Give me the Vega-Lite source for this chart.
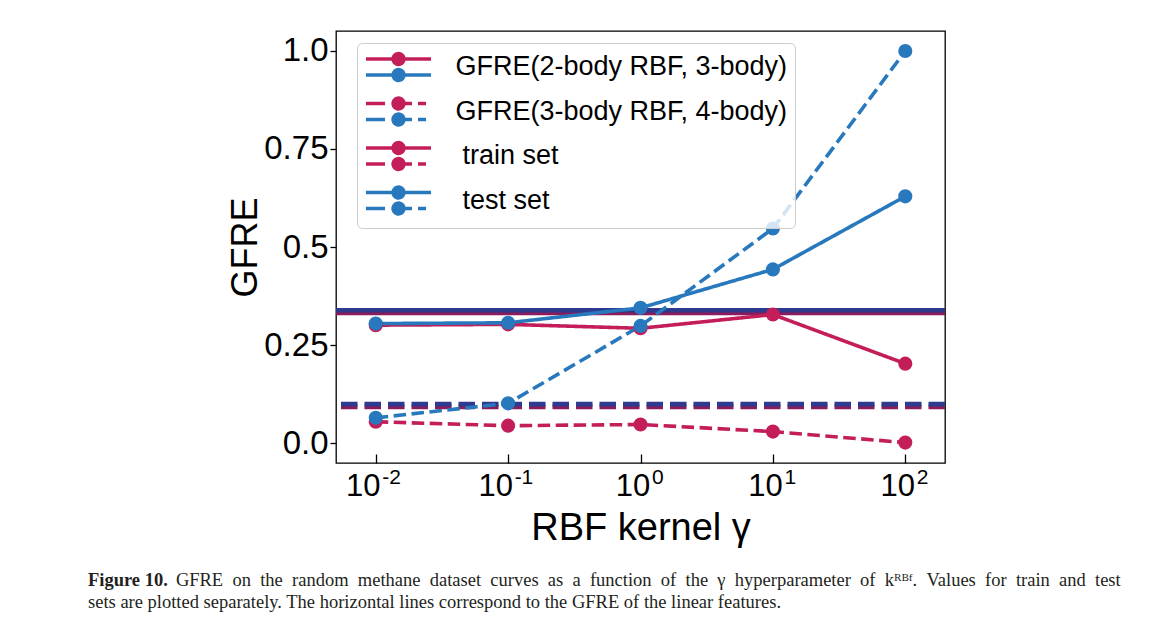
{
  "$schema": "https://vega.github.io/schema/vega-lite/v6.json",
  "width": 609,
  "height": 432,
  "autosize": {"type": "none"},
  "padding": {"left": 336, "top": 31, "right": 225, "bottom": 174},
  "background": "white",
  "config": {
    "font": "Liberation Sans",
    "view": {"stroke": "black", "strokeWidth": 1.3},
    "axis": {"grid": false, "domain": false, "labelColor": "black", "titleColor": "black", "tickColor": "black", "tickWidth": 1.3, "titleFontWeight": "normal", "labelFont": "Liberation Sans", "titleFont": "Liberation Sans", "labelFlush": false, "labelOverlap": false}
  },
  "title": {
    "text": "Figure 10.",
    "subtitle": ["\u200b\u00a0\u00a0\u00a0\u00a0\u00a0\u00a0\u00a0\u00a0\u00a0\u00a0\u00a0\u00a0\u00a0\u00a0\u00a0\u00a0\u00a0\u00a0\u00a0GFRE\u00a0\u00a0on\u00a0\u00a0the\u00a0\u00a0random\u00a0\u00a0methane\u00a0\u00a0dataset\u00a0\u00a0curves\u00a0\u00a0as\u00a0\u00a0a\u00a0\u00a0function\u00a0\u00a0of\u00a0\u00a0the\u00a0\u00a0γ\u00a0\u00a0hyperparameter\u00a0\u00a0of\u00a0\u00a0kᴿᴮᶠ.\u00a0\u00a0Values\u00a0\u00a0for\u00a0\u00a0train\u00a0\u00a0and\u00a0\u00a0test", "sets are plotted separately. The horizontal lines correspond to the GFRE of the linear features."],
    "orient": "bottom",
    "anchor": "start",
    "frame": "group",
    "font": "Liberation Serif",
    "fontSize": 18.5,
    "fontWeight": "bold",
    "color": "#231f20",
    "subtitleFont": "Liberation Serif",
    "subtitleFontSize": 18.5,
    "subtitleFontWeight": "normal",
    "subtitleColor": "#231f20",
    "subtitlePadding": -18.5,
    "subtitleLineHeight": 22,
    "offset": 24,
    "dx": -248
  },
  "datasets": {
    "curves": [
      {"gamma": 0.01, "value": 0.301, "set": "train set", "model": "GFRE(2-body RBF, 3-body)"},
      {"gamma": 0.1, "value": 0.303, "set": "train set", "model": "GFRE(2-body RBF, 3-body)"},
      {"gamma": 1, "value": 0.293, "set": "train set", "model": "GFRE(2-body RBF, 3-body)"},
      {"gamma": 10, "value": 0.328, "set": "train set", "model": "GFRE(2-body RBF, 3-body)"},
      {"gamma": 100, "value": 0.203, "set": "train set", "model": "GFRE(2-body RBF, 3-body)"},
      {"gamma": 0.01, "value": 0.055, "set": "train set", "model": "GFRE(3-body RBF, 4-body)"},
      {"gamma": 0.1, "value": 0.045, "set": "train set", "model": "GFRE(3-body RBF, 4-body)"},
      {"gamma": 1, "value": 0.048, "set": "train set", "model": "GFRE(3-body RBF, 4-body)"},
      {"gamma": 10, "value": 0.030, "set": "train set", "model": "GFRE(3-body RBF, 4-body)"},
      {"gamma": 100, "value": 0.002, "set": "train set", "model": "GFRE(3-body RBF, 4-body)"},
      {"gamma": 0.01, "value": 0.305, "set": "test set", "model": "GFRE(2-body RBF, 3-body)"},
      {"gamma": 0.1, "value": 0.307, "set": "test set", "model": "GFRE(2-body RBF, 3-body)"},
      {"gamma": 1, "value": 0.345, "set": "test set", "model": "GFRE(2-body RBF, 3-body)"},
      {"gamma": 10, "value": 0.443, "set": "test set", "model": "GFRE(2-body RBF, 3-body)"},
      {"gamma": 100, "value": 0.629, "set": "test set", "model": "GFRE(2-body RBF, 3-body)"},
      {"gamma": 0.01, "value": 0.065, "set": "test set", "model": "GFRE(3-body RBF, 4-body)"},
      {"gamma": 0.1, "value": 0.102, "set": "test set", "model": "GFRE(3-body RBF, 4-body)"},
      {"gamma": 1, "value": 0.299, "set": "test set", "model": "GFRE(3-body RBF, 4-body)"},
      {"gamma": 10, "value": 0.547, "set": "test set", "model": "GFRE(3-body RBF, 4-body)"},
      {"gamma": 100, "value": 0.999, "set": "test set", "model": "GFRE(3-body RBF, 4-body)"}
    ],
    "linear": [
      {"set": "train set", "model": "GFRE(2-body RBF, 3-body)", "linear": 0.332},
      {"set": "train set", "model": "GFRE(3-body RBF, 4-body)", "linear": 0.093},
      {"set": "test set", "model": "GFRE(2-body RBF, 3-body)", "linear": 0.339},
      {"set": "test set", "model": "GFRE(3-body RBF, 4-body)", "linear": 0.100}
    ]
  },
  "resolve": {"scale": {"color": "independent", "strokeDash": "independent"}, "axis": {"y": "independent"}},
  "layer": [
    {
      "data": {"name": "linear"},
      "mark": {"type": "rule", "strokeWidth": 4.7},
      "encoding": {
        "y": {"field": "linear", "type": "quantitative", "scale": {"domain": [-0.05, 1.05], "nice": false, "zero": false},
          "axis": {"orient": "left", "values": [0, 0.25, 0.5, 0.75, 1], "labelExpr": "datum.value == 0 ? '0.0' : datum.value == 1 ? '1.0' : '' + datum.value", "labelFontSize": 33, "labelPadding": 2, "tickSize": 6, "title": "GFRE", "titleFontSize": 36, "titlePadding": -1}},
        "color": {"field": "set", "type": "nominal", "scale": {"domain": ["train set", "test set"], "range": ["#8c1b5b", "#2d3a8e"]}, "legend": null},
        "strokeDash": {"field": "model", "type": "nominal", "scale": {"domain": ["GFRE(2-body RBF, 3-body)", "GFRE(3-body RBF, 4-body)"], "range": [[1, 0], [16.5, 7]]}, "legend": null}
      }
    },
    {
      "data": {"name": "curves"},
      "resolve": {"axis": {"x": "independent"}},
      "layer": [
        {
          "mark": {"type": "line", "strokeWidth": 3.6},
          "encoding": {
            "x": {"field": "gamma", "type": "quantitative", "scale": {"type": "log", "domain": [0.00501, 199.5], "nice": false},
              "axis": {"orient": "bottom", "values": [0.01, 0.1, 1, 10, 100], "labelExpr": "'10'", "labelFontSize": 31,
                "labelOffset": {"condition": {"test": "datum.value < 1", "value": -13}, "value": -8},
                "labelPadding": 17, "tickSize": -9, "title": "RBF kernel γ", "titleFontSize": 38, "titlePadding": 8}},
            "y": {"field": "value", "type": "quantitative", "scale": {"domain": [-0.05, 1.05], "nice": false, "zero": false},
              "axis": {"orient": "left", "values": [0, 0.25, 0.5, 0.75, 1], "labels": false, "tickSize": -7, "title": null}},
            "color": {"field": "set", "type": "nominal",
              "scale": {"domain": ["GFRE(2-body RBF, 3-body)", "GFRE(3-body RBF, 4-body)", "train set", "test set"],
                "range": [
                  {"expr": "{gradient: 'linear', x1: 0, y1: 0, x2: 0, y2: 1, stops: [{offset: 0, color: '#c41e5a'}, {offset: 0.5, color: '#c41e5a'}, {offset: 0.5, color: '#2878bd'}, {offset: 1, color: '#2878bd'}]}"},
                  {"expr": "{gradient: 'linear', x1: 0, y1: 0, x2: 0, y2: 1, stops: [{offset: 0, color: '#c41e5a'}, {offset: 0.5, color: '#c41e5a'}, {offset: 0.5, color: '#2878bd'}, {offset: 1, color: '#2878bd'}]}"},
                  "#c41e5a", "#2878bd"]},
              "legend": {
                "orient": "none", "legendX": 21, "legendY": 12, "title": null,
                "symbolSize": 900, "symbolStrokeWidth": 3.3, "symbolType": "stroke", "symbolOffset": 17.5,
                "labelFont": "Liberation Sans", "labelFontSize": 27, "labelColor": "black", "labelLimit": 600,
                "labelOffset": 40, "rowPadding": 2.5, "padding": 7,
                "strokeColor": "#cccccc", "fillColor": "rgba(255,255,255,0.8)", "cornerRadius": 5,
                "encode": {
                  "symbols": {"update": {
                    "shape": {"signal": "datum.value === 'GFRE(2-body RBF, 3-body)' ? 'M-2.167,-0.533H2.167M-2.167,0.533H2.167M0.367,-0.533A0.367,0.367,0,1,1,-0.367,-0.533A0.367,0.367,0,1,1,0.367,-0.533ZM0.367,0.533A0.367,0.367,0,1,1,-0.367,0.533A0.367,0.367,0,1,1,0.367,0.533Z' : datum.value === 'GFRE(3-body RBF, 4-body)' ? 'M-2.167,-0.533H-0.9M-0.433,-0.533H0.9M1.3,-0.533H1.833M-2.167,0.533H-0.9M-0.433,0.533H0.9M1.3,0.533H1.833M0.367,-0.533A0.367,0.367,0,1,1,-0.367,-0.533A0.367,0.367,0,1,1,0.367,-0.533ZM0.367,0.533A0.367,0.367,0,1,1,-0.367,0.533A0.367,0.367,0,1,1,0.367,0.533Z' : 'M-2.167,-0.533H2.167M-2.167,0.533H-0.9M-0.433,0.533H0.9M1.3,0.533H1.833M0.367,-0.533A0.367,0.367,0,1,1,-0.367,-0.533A0.367,0.367,0,1,1,0.367,-0.533ZM0.367,0.533A0.367,0.367,0,1,1,-0.367,0.533A0.367,0.367,0,1,1,0.367,0.533Z'"},
                    "strokeWidth": {"value": 3.3},
                    "strokeDash": {"value": [1, 0]},
                    "opacity": {"value": 1},
                    "fillOpacity": {"value": 1},
                    "strokeOpacity": {"value": 1}
                  }},
                  "labels": {"update": {"dx": {"signal": "datum.value === 'train set' || datum.value === 'test set' ? 7 : 0"}}}
                }
              }},
            "strokeDash": {"field": "model", "type": "nominal", "scale": {"domain": ["GFRE(2-body RBF, 3-body)", "GFRE(3-body RBF, 4-body)"], "range": [[1, 0], [12.5, 5.5]]}, "legend": null}
          }
        },
        {
          "mark": {"type": "point", "filled": true, "size": 200, "opacity": 1},
          "encoding": {
            "x": {"field": "gamma", "type": "quantitative", "scale": {"type": "log", "domain": [0.00501, 199.5], "nice": false},
              "axis": {"orient": "bottom", "values": [0.01, 0.1, 1, 10, 100], "labelExpr": "'' + round(log(datum.value) / LN10)", "labelFontSize": 21, "labelAlign": "left",
                "labelOffset": {"condition": {"test": "datum.value < 1", "value": 6}, "value": 11},
                "labelPadding": 3, "ticks": false, "title": null}},
            "y": {"field": "value", "type": "quantitative", "scale": {"domain": [-0.05, 1.05], "nice": false, "zero": false}, "axis": null},
            "color": {"field": "set", "type": "nominal", "legend": null}
          }
        }
      ]
    }
  ]
}
